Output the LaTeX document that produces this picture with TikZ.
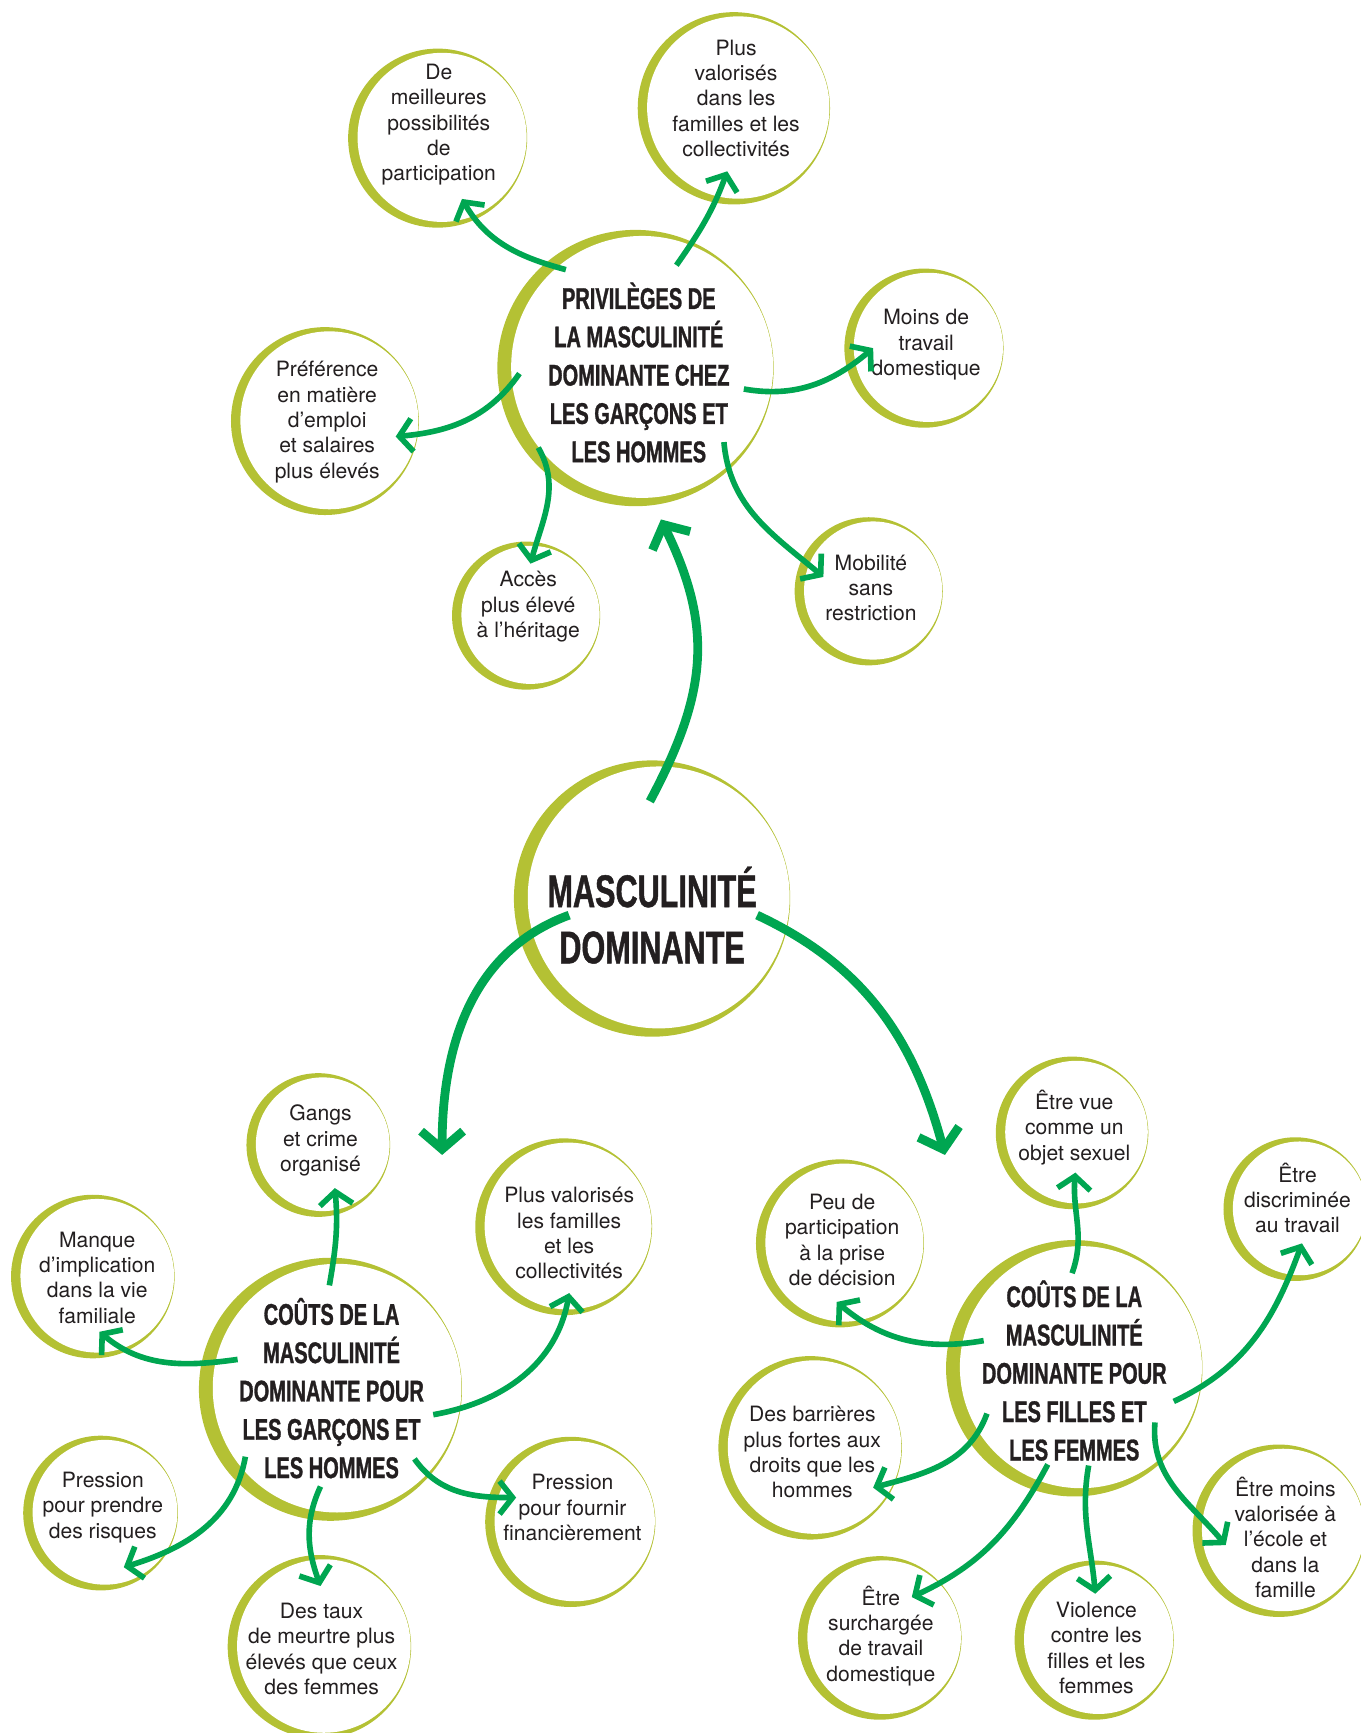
\documentclass[tikz,border=0pt]{standalone}
\usepackage{fontspec}
\setmainfont{TeX Gyre Heros}
\newfontfamily\headfont[FakeStretch=0.67,FakeBold=1]{Liberation Sans}
\usetikzlibrary{arrows.meta}
\definecolor{olive}{RGB}{180,193,52}
\definecolor{leafgreen}{RGB}{0,166,81}
\definecolor{ink}{RGB}{35,31,32}
\tikzset{
  ring/.style={fill=olive},
  hole/.style={fill=white},
  leaf/.style={align=center,inner sep=0pt,text=ink,font=\fontsize{12}{14.4}\selectfont},
  hub/.style={align=center,inner sep=0pt,text=ink,font=\headfont\bfseries\fontsize{17}{21.8}\selectfont},
  core/.style={align=center,inner sep=0pt,text=ink,font=\headfont\bfseries\fontsize{26}{32}\selectfont},
  link/.style={leafgreen,line width=3.2pt,-{Straight Barb[length=2.6mm,width=6.6mm]}},
  mainlink/.style={leafgreen,line width=5pt,-{Straight Barb[length=3.6mm,width=8.4mm]}}
}

\begin{document}
\begin{tikzpicture}[x=0.0221cm,y=0.0221cm]
  \useasboundingbox (0,0) rectangle (1231,1568);

  % rings
  \fill[ring] (575,1235) circle (125); \fill[hole] (581,1236) circle (118.5);
  \fill[ring] (590,755) circle (125);  \fill[hole] (596,756) circle (118.5);
  \fill[ring] (299,311) circle (119);  \fill[hole] (305,312) circle (112.5);
  \fill[ring] (972,330) circle (116);  \fill[hole] (978,331) circle (109.5);

  \fill[ring] (396,1443) circle (81);  \fill[hole] (400,1443.7) circle (76.5);
  \fill[ring] (664,1470) circle (87);  \fill[hole] (668,1470.7) circle (82.5);
  \fill[ring] (836,1253) circle (72);  \fill[hole] (840,1253.7) circle (67.5);
  \fill[ring] (294,1187) circle (85);  \fill[hole] (298,1187.7) circle (80.5);
  \fill[ring] (786,1033) circle (67);  \fill[hole] (790,1033.7) circle (62.5);
  \fill[ring] (476,1011) circle (67);  \fill[hole] (480,1011.7) circle (62.5);

  \fill[ring] (288,532) circle (65);   \fill[hole] (292,532.7) circle (60.5);
  \fill[ring] (510,458) circle (80);   \fill[hole] (514,458.7) circle (75.5);
  \fill[ring] (84,413) circle (74);    \fill[hole] (88,413.7) circle (69.5);
  \fill[ring] (91,199) circle (70);    \fill[hole] (95,199.7) circle (65.5);
  \fill[ring] (516,191) circle (77);   \fill[hole] (520,191.7) circle (72.5);
  \fill[ring] (289,78) circle (83);    \fill[hole] (293,78.7) circle (78.5);

  \fill[ring] (970,543) circle (69);   \fill[hole] (974,543.7) circle (64.5);
  \fill[ring] (1172,474) circle (65);  \fill[hole] (1176,474.7) circle (60.5);
  \fill[ring] (760,443) circle (76);   \fill[hole] (764,443.7) circle (71.5);
  \fill[ring] (733,258) circle (83);   \fill[hole] (737,258.7) circle (78.5);
  \fill[ring] (1157,183) circle (78);  \fill[hole] (1161,183.7) circle (73.5);
  \fill[ring] (796,86) circle (74);    \fill[hole] (800,86.7) circle (69.5);
  \fill[ring] (990,84) circle (72);    \fill[hole] (994,84.7) circle (67.5);

  % centre
  \node[core] (masc) at (590,740) {MASCULINIT\'E\\DOMINANTE};

  % privileges
  \node[hub] (priv) at (578,1231) {PRIVIL\`EGES DE\\LA MASCULINIT\'E\\DOMINANTE CHEZ\\LES GAR\c{C}ONS ET\\LES HOMMES};
  \node[leaf] (meil) at (397,1455) {De\\meilleures\\possibilités\\de\\participation};
  \node[leaf] (plusv1) at (666,1479) {Plus\\valorisés\\dans les\\familles et les\\collectivités};
  \node[leaf] (moins) at (838,1256) {Moins de\\travail\\domestique};
  \node[leaf] (pref) at (296,1186) {Préférence\\en matière\\d’emploi\\et salaires\\plus élevés};
  \node[leaf] (mobil) at (788,1036) {Mobilité\\sans\\restriction};
  \node[leaf] (acces) at (478,1019) {Accès\\plus élevé\\à l’héritage};

  % costs for boys and men
  \node[hub] (garc) at (300,312) {CO\^UTS DE LA\\MASCULINIT\'E\\DOMINANTE POUR\\LES GAR\c{C}ONS ET\\LES HOMMES};
  \node[leaf] (gangs) at (290,536) {Gangs\\et crime\\organisé};
  \node[leaf] (plusv2) at (515,452) {Plus valorisés\\les familles\\et les\\collectivités};
  \node[leaf] (manque) at (88,412) {Manque\\d’implication\\dans la vie\\familiale};
  \node[leaf] (prisq) at (93,204) {Pression\\pour prendre\\des risques};
  \node[leaf] (fourn) at (518,204) {Pression\\pour fournir\\financièrement};
  \node[leaf] (taux) at (291,76) {Des taux\\de meurtre plus\\élevés que ceux\\des femmes};

  % costs for girls and women
  \node[hub] (fill) at (972,328) {CO\^UTS DE LA\\MASCULINIT\'E\\DOMINANTE POUR\\LES FILLES ET\\LES FEMMES};
  \node[leaf] (vue) at (972,548) {Être vue\\comme un\\objet sexuel};
  \node[leaf] (discr) at (1174,484) {Être\\discriminée\\au travail};
  \node[leaf] (peu) at (762,446) {Peu de\\participation\\à la prise\\de décision};
  \node[leaf] (barr) at (735,254) {Des barrières\\plus fortes aux\\droits que les\\hommes};
  \node[leaf] (moinsv) at (1163,177) {Être moins\\valorisée à\\l’école et\\dans la\\famille};
  \node[leaf] (surch) at (797,88) {Être\\surchargée\\de travail\\domestique};
  \node[leaf] (viol) at (992,77) {Violence\\contre les\\filles et les\\femmes};

  % main arrows
  \draw[mainlink] ([shift={(-2,103)}]masc.center) to[out=62,in=-64,looseness=1.1] ([shift={(20,-133)}]priv.center);
  \draw[mainlink] ([shift={(-75,0)}]masc.center) to[out=200,in=90] ([shift={(100,211)}]garc.center);
  \draw[mainlink] ([shift={(95,0)}]masc.center) to[out=-25,in=105] ([shift={(-117,195)}]fill.center);

  % privileges arrows
  \draw[link] ([shift={(-66,93)}]priv.center) to[out=165,in=-60] ([shift={(21,-67)}]meil.center);
  \draw[link] ([shift={(34,97)}]priv.center) to[out=55,in=250] ([shift={(-8,-66)}]plusv1.center);
  \draw[link] ([shift={(95,-15)}]priv.center) to[out=-10,in=220] ([shift={(-48,-3)}]moins.center);
  \draw[link] ([shift={(-108,-1)}]priv.center) to[out=235,in=5] ([shift={(62,-13)}]pref.center);
  \draw[link] ([shift={(-91,-68)}]priv.center) to[out=-60,in=75] ([shift={(2,39)}]acces.center);
  \draw[link] ([shift={(77,-63)}]priv.center) to[out=-85,in=140] ([shift={(-43,10)}]mobil.center);

  % boys arrows
  \draw[link] ([shift={(-2,93)}]garc.center) to[out=80,in=-85] ([shift={(13,-43)}]gangs.center);
  \draw[link] ([shift={(-85,26)}]garc.center) to[out=188,in=-40] ([shift={(2,-49)}]manque.center);
  \draw[link] ([shift={(92,-24)}]garc.center) to[out=10,in=-100] ([shift={(0,-54)}]plusv2.center);
  \draw[link] ([shift={(-78,-62)}]garc.center) to[out=-100,in=17] ([shift={(19,-54)}]prisq.center);
  \draw[link] ([shift={(-10,-89)}]garc.center) to[out=-115,in=110] ([shift={(-1,57)}]taux.center);
  \draw[link] ([shift={(75,-64)}]garc.center) to[out=-55,in=180] ([shift={(-51,9)}]fourn.center);

  % girls arrows
  \draw[link] ([shift={(-2,88)}]fill.center) to[out=70,in=-95] ([shift={(1,-41)}]vue.center);
  \draw[link] ([shift={(-82,27)}]fill.center) to[out=190,in=-40] ([shift={(-5,-56)}]peu.center);
  \draw[link] ([shift={(90,-28)}]fill.center) to[out=25,in=-110] ([shift={(4,-41)}]discr.center);
  \draw[link] ([shift={(-79,-39)}]fill.center) to[out=-110,in=15] ([shift={(55,-32)}]barr.center);
  \draw[link] ([shift={(73,-47)}]fill.center) to[out=-95,in=130] ([shift={(-54,-7)}]moinsv.center);
  \draw[link] ([shift={(-24,-85)}]fill.center) to[out=-118,in=25] ([shift={(28,35)}]surch.center);
  \draw[link] ([shift={(13,-86)}]fill.center) to[out=-100,in=95] ([shift={(-1,49)}]viol.center);
\end{tikzpicture}
\end{document}
